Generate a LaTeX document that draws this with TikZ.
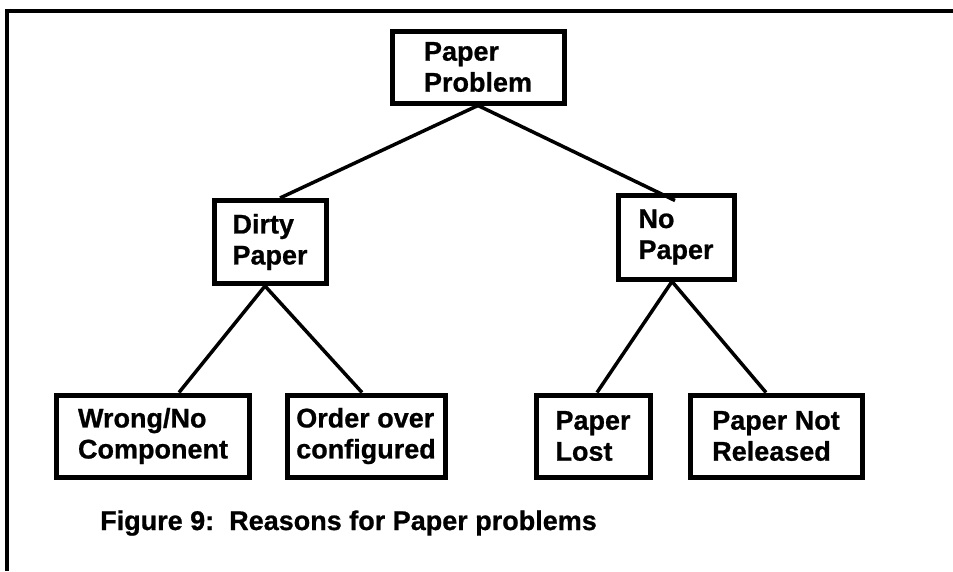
\documentclass[tikz,border=0pt]{standalone}
\usepackage{fontspec}
\setmainfont{Liberation Sans}[BoldFeatures={FakeBold=0.8}]
\begin{document}
\begin{tikzpicture}[x=1pt,y=1pt,
  box/.style={draw=black, line width=5pt, rectangle, inner sep=0pt, align=left,
              font=\fontsize{27}{31}\selectfont\bfseries},
  link/.style={draw=black, line width=3.5pt},
  frameline/.style={draw=black, line width=3.5pt}]
\useasboundingbox (0,0) rectangle (953,-571);
\coordinate (fr1) at (953,-11);
\coordinate (fr2) at (7,-11);
\coordinate (fr3) at (7,-571);
\draw[frameline] (fr1) -- (fr2) -- (fr3);

\node[box, minimum width=172, minimum height=72] (pp) at (478,-67) {Paper\\Problem};
\node[box, minimum width=112, minimum height=83] (dp) at (270,-242) {Dirty\\Paper};
\node[box, minimum width=116, minimum height=84] (np) at (676,-237) {No\\Paper};
\node[box, minimum width=193, minimum height=82] (wn) at (153,-436) {Wrong/No\\Component};
\node[box, minimum width=158, minimum height=82] (oc) at (366,-436) {Order over\\configured};
\node[box, minimum width=114, minimum height=82] (pl) at (593,-436) {Paper\\Lost};
\node[box, minimum width=172, minimum height=82] (pr) at (776,-436) {Paper Not\\Released};

\node[anchor=base west, inner sep=0pt, font=\fontsize{27}{31}\selectfont\bfseries] (cap) at (100,-530)
  {Figure 9:\ \ Reasons for Paper problems};

\draw[link] (pp.south) -- ([xshift=10pt]dp.north);
\draw[link] (pp.south) -- ([xshift=-1pt,yshift=-8pt]np.north);
\draw[link] ([xshift=-5pt]dp.south) -- ([xshift=26pt]wn.north);
\draw[link] ([xshift=-5pt]dp.south) -- ([xshift=-4pt]oc.north);
\draw[link] ([xshift=-4pt]np.south) -- ([xshift=4pt]pl.north);
\draw[link] ([xshift=-4pt]np.south) -- ([xshift=-10pt]pr.north);
\end{tikzpicture}
\end{document}
